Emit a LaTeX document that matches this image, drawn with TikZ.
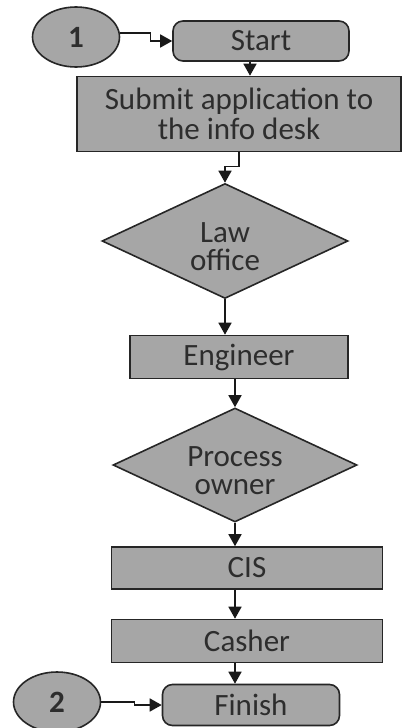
\documentclass[tikz,border=0pt]{standalone}
\usepackage{fontspec}
\setmainfont{Carlito}
\usepackage{xcolor}
\usetikzlibrary{arrows.meta,positioning,shapes.geometric}

\definecolor{boxgray}{RGB}{166,166,166}
\definecolor{inkgray}{RGB}{45,45,45}

\begin{document}
\begin{tikzpicture}[x=0.5pt, y=-0.5pt,
  font=\fontsize{15.5pt}{14pt}\selectfont, text=inkgray,
  box/.style={draw=black!85, line width=0.8pt, fill=boxgray, align=center, inner sep=1pt},
  roundbox/.style={box, rounded corners=5pt},
  decision/.style={box, diamond, inner sep=0pt},
  inside/.style={align=center, yshift=-3pt},
  connector/.style={box, ellipse, inner sep=0pt, minimum width=43.5pt, minimum height=30pt},
  arr/.style={draw=black!90, line width=0.8pt, -{Triangle[length=6pt,width=6.5pt]}}]

\useasboundingbox (0,0) rectangle (403,728);
\clip (0,0) rectangle (403,728);

% ---------- top: start ----------
\node[connector] (one) at (76,37) {\bfseries 1};
\node[roundbox, minimum width=88pt, minimum height=20pt] (start) at (261,41) {Start};
\node[box, minimum width=162pt, minimum height=37.5pt,
  font=\fontsize{15.5pt}{15pt}\selectfont] (submit) at (239,114)
  {Submit application to\\the info desk};

% ---------- middle: offices ----------
\node[decision, minimum width=123pt, minimum height=57.5pt,
  label={[inside]center:{Law\\office}}] (law) at (225,241) {};
\node[box, minimum width=109pt, minimum height=21.5pt] (eng) at (239,357) {Engineer};
\node[decision, minimum width=122pt, minimum height=57pt,
  label={[inside]center:{Process\\owner}}] (proc) at (235,465) {};
\node[box, minimum width=135.5pt, minimum height=21pt] (cis) at (247,568) {CIS};
\node[box, minimum width=135.5pt, minimum height=21.5pt] (cash) at (247,641) {Casher};

% ---------- bottom: finish ----------
\node[connector] (two) at (57,702) {\bfseries 2};
\node[roundbox, minimum width=88.5pt, minimum height=20.5pt] (fin) at (251,705) {Finish};

% ---------- connectors ----------
\draw[arr] ([yshift=2pt]one.east) -- ++(15pt,0) |- (start.west);
\draw[arr] ([xshift=-5.5pt]start.south) -- ([xshift=5.5pt]submit.north);
\draw[arr] (submit.south) -- ++(0,-7pt) -| (law.north);
\draw[arr] (law.south) -- (law.south |- eng.north);
\draw[arr] (proc.north |- eng.south) -- (proc.north);
\draw[arr] (proc.south) -- (proc.south |- cis.north);
\draw[arr] ([xshift=-6pt]cis.south) -- ([xshift=-6pt]cash.north);
\draw[arr] ([xshift=-6pt]cash.south) -- ([xshift=-6pt]cash.south |- fin.north);
\draw[arr] (two.east) -- ++(16.5pt,0) |- (fin.west);
\end{tikzpicture}
\end{document}
